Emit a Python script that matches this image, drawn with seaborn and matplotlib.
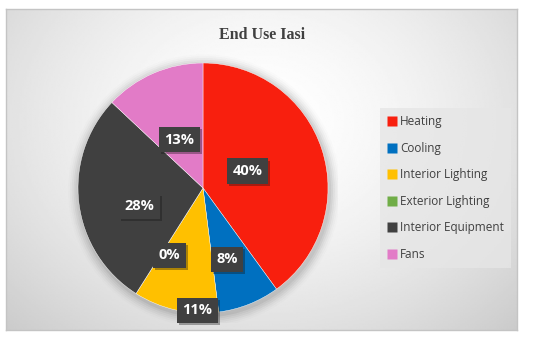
import numpy as np
import matplotlib
matplotlib.use("Agg")
import matplotlib.pyplot as plt
import matplotlib.patheffects as pe
from matplotlib.lines import Line2D
import seaborn as sns

categories = ["Heating", "Cooling", "Interior Lighting", "Exterior Lighting",
              "Interior Equipment", "Fans"]
shares = [40, 8, 11, 0, 28, 13]
labels = ["40%", "8%", "11%", "0%", "28%", "13%"]
colors = ["#F81F0E", "#0070C0", "#FFC000", "#70AD47", "#404040", "#E27BC7"]
# how far out (fraction of radius) each data label sits
label_r = [0.38, 0.6, 0.98, 0.6, 0.53, 0.43]
label_shift = [-3, 3, -10, -6, -9, -3]  # degrees, to mimic excel best fit

sns.set_theme(style="white")
plt.rcParams["font.family"] = ["Open Sans", "DejaVu Sans"]

W, H = 550, 340
fig = plt.figure(figsize=(W / 100, H / 100), dpi=100)
fig.patch.set_facecolor("white")

# chart area with radial gray gradient
bx0, by0, bx1, by1 = 6, 9, 517, 330
bg = fig.add_axes([bx0 / W, 1 - by1 / H, (bx1 - bx0) / W, (by1 - by0) / H])
yy, xx = np.mgrid[0:1:200j, 0:1:300j]
d = np.sqrt(((xx - 0.5) / 0.75) ** 2 + ((yy - 0.35) / 0.95) ** 2)
shade = 1.0 - 0.22 * np.clip(d, 0, 1) ** 1.6
bg.imshow(shade, cmap="gray", vmin=0, vmax=1, aspect="auto",
          extent=[0, 1, 1, 0], interpolation="bilinear")
bg.set_xlim(0, 1)
bg.set_ylim(1, 0)
bg.set_xticks([])
bg.set_yticks([])
for s in bg.spines.values():
    s.set_color("#c4c4c4")
    s.set_linewidth(1.0)

fig.text(262 / W, 1 - 35 / H, "End Use Iasi", ha="center", va="center",
         fontsize=11.5, fontweight="bold", color="#404040",
         family=["Liberation Serif", "DejaVu Serif"])

# pie
cx, cy, R = 203, 188, 125
ax = fig.add_axes([(cx - 1.08 * R) / W, 1 - (cy + 1.08 * R) / H,
                   2.16 * R / W, 2.16 * R / H])
ax.set_facecolor("none")
# soft shadow
for i, a in enumerate(np.linspace(0.05, 0.01, 6)):
    ax.add_patch(plt.Circle((0.01, -0.02), 1.0 + 0.015 * (i + 1),
                            color="black", alpha=a, lw=0))
wedges, _ = ax.pie(shares, colors=colors, startangle=90, counterclock=False,
                   radius=1.0, wedgeprops=dict(linewidth=0.3, edgecolor="white"))
ax.set_xlim(-1.08, 1.08)
ax.set_ylim(-1.08, 1.08)
ax.set_aspect("equal")
ax.axis("off")

start = 0.0
total = float(sum(shares))
for v, lab, rf, sh in zip(shares, labels, label_r, label_shift):
    mid = start + v / total * 360 / 2 + sh
    start += v / total * 360
    ang = np.deg2rad(90 - mid)
    t = ax.text(rf * np.cos(ang), rf * np.sin(ang), lab, ha="center",
                va="center", fontsize=10.5, fontweight="bold", color="white",
                bbox=dict(boxstyle="square,pad=0.38", fc="#404040", ec="none"),
                zorder=5)
    t.get_bbox_patch().set_path_effects(
        [pe.SimplePatchShadow(offset=(1.5, -1.5), alpha=0.35), pe.Normal()])

handles = [Line2D([0], [0], marker="s", linestyle="none", markersize=6.5,
                  markerfacecolor=c, markeredgecolor="none") for c in colors]
leg = fig.legend(handles, categories, loc="upper left",
                 bbox_to_anchor=(380 / W, 1 - 108 / H), frameon=True,
                 fontsize=8.5, labelspacing=1.15, handlelength=0.8,
                 handletextpad=0.3, borderpad=0.6, borderaxespad=0)
leg.get_frame().set_facecolor("#e6e6e6")
leg.get_frame().set_edgecolor("none")
leg.get_frame().set_alpha(0.8)
leg.get_frame().set_boxstyle("square", pad=0)
for txt in leg.get_texts():
    txt.set_color("#404040")

fig.savefig("out.png", dpi=100)
